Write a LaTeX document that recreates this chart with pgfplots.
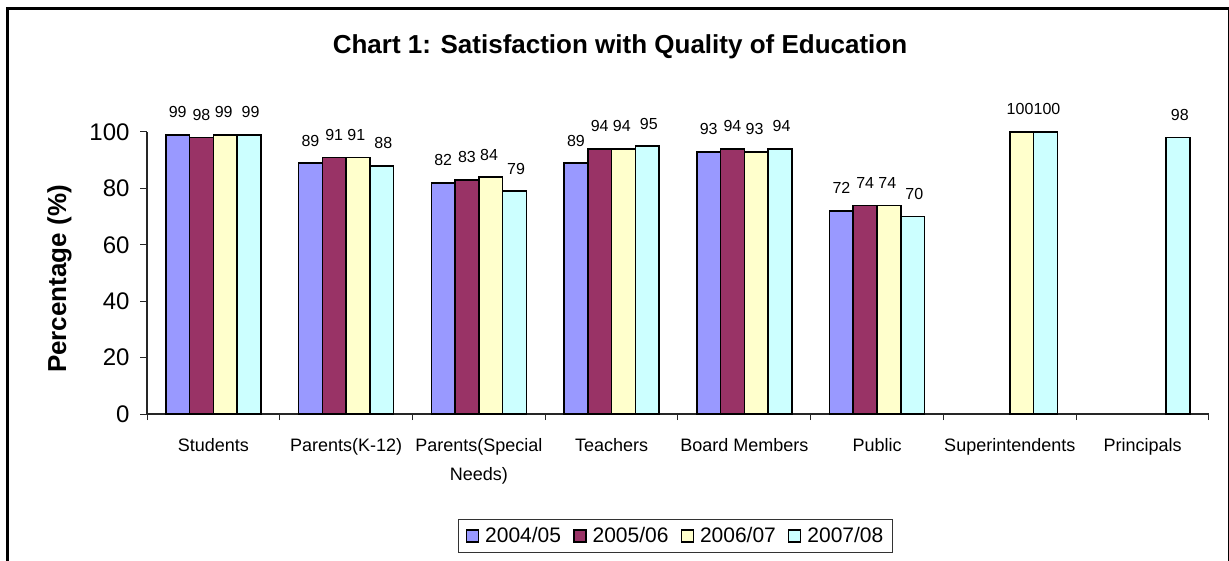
\documentclass[border=0pt]{standalone}
\usepackage{fontspec}
\setmainfont{Liberation Sans}
\usepackage{pgfplots}
\pgfplotsset{compat=1.18}
\definecolor{c1}{HTML}{9999FF}
\definecolor{c2}{HTML}{993366}
\definecolor{c3}{HTML}{FFFFCC}
\definecolor{c4}{HTML}{CCFFFF}
\pgfplotsset{ybar legend/.style={legend image code/.code={\draw[##1,line width=1.5pt] (0pt,-6pt) rectangle (12pt,6pt);}}}
\begin{document}
\begin{tikzpicture}[x=1pt,y=1pt]
\useasboundingbox (0,0) rectangle (1229,560);
\draw[line width=3pt] (7,-4) rectangle (1229.5,551.5);
\node[font=\bfseries\fontsize{26}{30}\selectfont, anchor=base, inner sep=0pt] at (620,506) {Chart 1: Satisfaction with Quality of Education};
\node[font=\bfseries\fontsize{26}{30}\selectfont, anchor=base, rotate=90, inner sep=0pt] at (66,281) {Percentage (\%)};
\begin{axis}[
  at={(147pt,146pt)}, anchor=south west,
  scale only axis, width=1062pt, height=282pt,
  xmin=-0.5, xmax=7.5, ymin=0, ymax=100,
  axis x line=bottom, axis y line=left,
  axis line style={-, line width=1.2pt, black!85},
  ytick={0,20,...,100},
  xtick={0,...,7},
  xticklabels={Students, Parents(K-12), {\begin{tabular}[t]{@{}c@{}}Parents(Special\\Needs)\end{tabular}}, Teachers, Board Members, Public, Superintendents, Principals},
  minor xtick={-0.5,0.5,...,7.5},
  tick align=outside,
  major tick length=7pt, minor tick length=6pt,
  major x tick style={draw=none},
  minor x tick style={black!85, line width=1pt},
  y tick style={black!85, line width=1pt},
  yticklabel style={font=\fontsize{24}{28}\selectfont, xshift=-7pt},
  xticklabel style={font=\fontsize{18}{29}\selectfont, anchor=base, yshift=-30pt},
  /pgf/number format/assume math mode=true,
  ybar=0pt, bar width=0.179,
  clip=false,
  nodes near coords,
  every node near coord/.append style={font=\fontsize{16}{19}\selectfont, anchor=base, yshift=17pt},
  legend style={at={(0.4977,-0.4326)}, anchor=center, legend columns=4, draw=black!80, line width=0.8pt, font=\fontsize{21}{24}\selectfont, inner xsep=7pt, inner ysep=6pt, /tikz/every odd column/.append style={column sep=4pt}, /tikz/every even column/.append style={column sep=10pt}},
]
\addplot[fill=c1, draw=black, line width=1.6pt, bar shift=-0.2685] coordinates {(0,99)(1,89)(2,82)(3,89)(4,93)(5,72)};
\addplot[fill=c2, draw=black, line width=1.6pt, bar shift=-0.0895] coordinates {(0,98)(1,91)(2,83)(3,94)(4,94)(5,74)};
\addplot[fill=c3, draw=black, line width=1.6pt, bar shift=0.0895, every node near coord/.append style={xshift=-1.6pt}] coordinates {(0,99)(1,91)(2,84)(3,94)(4,93)(5,74)(6,100)};
\addplot[fill=c4, draw=black, line width=1.6pt, bar shift=0.2685, every node near coord/.append style={xshift=1.6pt}] coordinates {(0,99)(1,88)(2,79)(3,95)(4,94)(5,70)(6,100)(7,98)};
\legend{2004/05,2005/06,2006/07,2007/08}
\end{axis}
\end{tikzpicture}
\end{document}
